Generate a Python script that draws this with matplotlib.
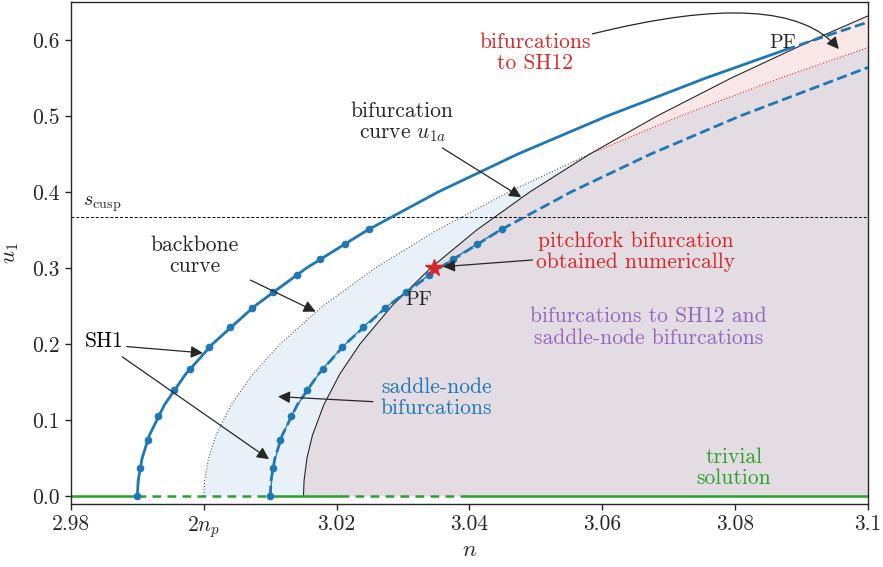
import matplotlib
matplotlib.use("Agg")
import matplotlib.pyplot as plt

plt.rcParams['font.family'] = 'serif'
plt.rcParams['font.serif'] = ['cmr10']
plt.rcParams['mathtext.fontset'] = 'cm'
plt.rcParams['axes.formatter.use_mathtext'] = True
plt.rcParams['axes.unicode_minus'] = False

blue = '#1f77b4'
red = '#d62728'
green = '#2ca02c'
purple = '#9467bd'
dark = '#262626'

# backbone curve SH1 (stable part up to PF, then unstable)
backbone_u = [0, 0.02, 0.05, 0.08, 0.12, 0.16, 0.20, 0.25, 0.30, 0.35, 0.40, 0.45, 0.50, 0.55, 0.587]
backbone_n = [2.99, 2.99011, 2.99071, 2.99181, 2.99408, 2.99724, 3.00132, 3.00769, 3.01547,
              3.02467, 3.03528, 3.04731, 3.06075, 3.07561, 3.08752]
backbone_unst_u = [0.587, 0.605, 0.6235]
backbone_unst_n = [3.08752, 3.09358, 3.1]

# second SH1 branch (dashed)
lower_u = [0, 0.02, 0.05, 0.08, 0.12, 0.16, 0.20, 0.25, 0.30, 0.35, 0.40, 0.45, 0.50, 0.5639]
lower_n = [3.01, 3.01011, 3.01071, 3.01181, 3.01408, 3.01724, 3.02132, 3.02769, 3.03547,
           3.04467, 3.05528, 3.06731, 3.08075, 3.1]

# numerical points
pts_u = [0, 0.037, 0.0737, 0.1057, 0.139, 0.1675, 0.1956, 0.222, 0.247, 0.269, 0.291, 0.312, 0.332, 0.351]
pts_n_upper = [2.99, 2.99039, 2.99154, 2.99316, 2.99547, 2.99794, 3.00083, 3.00395, 3.00727,
               3.01048, 3.01396, 3.01755, 3.02119, 3.02487]
pts_n_lower = [3.01, 3.01039, 3.01154, 3.01316, 3.01547, 3.01794, 3.02083, 3.02395, 3.02727,
               3.03048, 3.03396, 3.03755, 3.04119, 3.04487]

# saddle-node boundary (dotted), grey part then red part
sn_u = [0, 0.02, 0.05, 0.08, 0.12, 0.16, 0.20, 0.25, 0.30, 0.35, 0.40, 0.45]
sn_n = [3.0, 3.00011, 3.00072, 3.00184, 3.00413, 3.00735, 3.01148, 3.01794, 3.02583,
        3.03516, 3.04592, 3.05812]
sn_red_u = [0.45, 0.50, 0.55, 0.590]
sn_red_n = [3.05812, 3.07175, 3.08682, 3.1]

# bifurcation curve u1a
u1a_u = [0, 0.02, 0.05, 0.08, 0.12, 0.16, 0.20, 0.25, 0.30, 0.35, 0.40, 0.45, 0.50, 0.55, 0.60, 0.6317]
u1a_n = [3.015, 3.01509, 3.01553, 3.01636, 3.01807, 3.02045, 3.02352, 3.02831, 3.03417,
         3.04109, 3.04908, 3.05813, 3.06825, 3.07943, 3.09168, 3.1]

# trivial solution segments
triv_solid = [(2.98, 2.99), (3.01, 3.0205), (3.0395, 3.1)]
triv_dashed = [(2.99, 3.01), (3.0205, 3.0395)]

s_cusp = 0.3675
pf_num = (3.0347, 0.30)

x_ticks = [2.98, 3.00, 3.02, 3.04, 3.06, 3.08, 3.1]
x_ticklabels = ['2.98', '$2n_p$', '3.02', '3.04', '3.06', '3.08', '3.1']
y_ticks = [0.0, 0.1, 0.2, 0.3, 0.4, 0.5, 0.6]

fig = plt.figure(figsize=(8.83, 5.67), dpi=100)
ax = fig.add_axes([71 / 883, 1 - 503.5 / 567, 797 / 883, 501.5 / 567])

fs = 15.5

# regions
ax.fill_betweenx(u1a_u, u1a_n, 3.1, color=red, alpha=0.1, lw=0)
ax.fill_betweenx(sn_u + sn_red_u[1:], sn_n + sn_red_n[1:], 3.1, color=blue, alpha=0.1, lw=0)

ax.plot(sn_n, sn_u, ':', color='#555555', lw=0.8)
ax.plot(sn_red_n, sn_red_u, ':', color=red, lw=0.8)
ax.plot(u1a_n, u1a_u, '-', color=dark, lw=0.8)

ax.axhline(s_cusp, color='black', lw=0.7, ls=(0, (3, 2)))

for a, b in triv_solid:
    ax.plot([a, b], [0, 0], '-', color=green, lw=1.8)
for a, b in triv_dashed:
    ax.plot([a, b], [0, 0], '--', color=green, lw=1.8, dashes=(3.5, 2.5))

ax.plot(backbone_n, backbone_u, '-', color=blue, lw=2)
ax.plot(backbone_unst_n, backbone_unst_u, '--', color=blue, lw=2)
ax.plot(lower_n, lower_u, '--', color=blue, lw=2)
ax.plot(pts_n_upper, pts_u, 'o-', color=blue, lw=0.9, ms=4.5)
ax.plot(pts_n_lower, pts_u, 'o-', color=blue, lw=0.9, ms=4.5)

ax.plot(*pf_num, '*', color=red, ms=13, zorder=5)

ax.set_xlim(2.98, 3.1)
ax.set_ylim(-0.01, 0.65)
ax.set_xticks(x_ticks)
ax.set_xticklabels(x_ticklabels)
ax.set_yticks(y_ticks)
ax.set_yticklabels(['0.0', '0.1', '0.2', '0.3', '0.4', '0.5', '0.6'])
ax.tick_params(labelsize=fs, colors=dark, length=4.5, width=1)
for s in ax.spines.values():
    s.set_color(dark)
    s.set_linewidth(1)
ax.set_xlabel('$n$', fontsize=fs + 1, color=dark, labelpad=0)
ax.set_ylabel('$u_1$', fontsize=fs + 1, color=dark, labelpad=8)

# texts
ax.text(2.9818, 0.371, r'$s_{\rm cusp}$', fontsize=fs - 1, color=dark, ha='left', va='bottom')
ax.text(3.0499, 0.583, 'bifurcations\nto SH12', fontsize=fs, color=red, ha='center', va='center', linespacing=1.1)
ax.text(3.0299, 0.491, 'bifurcation\ncurve $u_{1a}$', fontsize=fs, color=dark, ha='center', va='center', linespacing=1.1)
ax.text(2.99865, 0.316, 'backbone\ncurve', fontsize=fs, color=dark, ha='center', va='center', linespacing=1.1)
ax.text(2.98496, 0.204, 'SH1', fontsize=fs, color='black', ha='center', va='center')
ax.text(3.065, 0.321, 'pitchfork bifurcation\nobtained numerically', fontsize=fs, color=red, ha='center', va='center', linespacing=1.1)
ax.text(3.0669, 0.222, 'bifurcations to SH12 and\nsaddle-node bifurcations', fontsize=fs, color=purple, ha='center', va='center', linespacing=1.1)
ax.text(3.035, 0.129, 'saddle-node\nbifurcations', fontsize=fs, color=blue, ha='center', va='center', linespacing=1.1)
ax.text(3.0798, 0.037, 'trivial\nsolution', fontsize=fs, color=green, ha='center', va='center', linespacing=1.1)
ax.text(3.0323, 0.258, 'PF', fontsize=fs - 1, color=dark, ha='center', va='center')
ax.text(3.0871, 0.596, 'PF', fontsize=fs - 1, color=dark, ha='center', va='center')

arrow = dict(arrowstyle='-|>', color=dark, lw=0.9, mutation_scale=18, shrinkA=0, shrinkB=0)
ax.annotate('', xy=(3.0956, 0.588), xytext=(3.0585, 0.608),
            arrowprops=dict(arrow, connectionstyle='angle3,angleA=14,angleB=-50'))
ax.annotate('', xy=(3.0478, 0.393), xytext=(3.0359, 0.458), arrowprops=arrow)
ax.annotate('', xy=(3.01684, 0.2425), xytext=(3.00702, 0.284), arrowprops=arrow)
ax.annotate('', xy=(2.99985, 0.1882), xytext=(2.98838, 0.1965), arrowprops=arrow)
ax.annotate('', xy=(3.00982, 0.0483), xytext=(2.98772, 0.183), arrowprops=arrow)
ax.annotate('', xy=(3.036, 0.3017), xytext=(3.0495, 0.3105), arrowprops=arrow)
ax.annotate('', xy=(3.01117, 0.1307), xytext=(3.02546, 0.124), arrowprops=arrow)

fig.savefig('out.png', dpi=100)
